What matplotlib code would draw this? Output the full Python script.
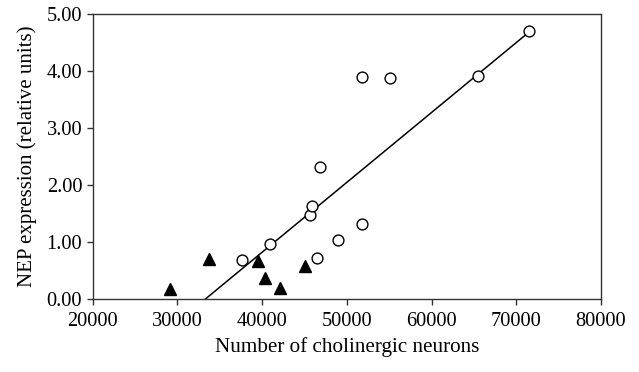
import matplotlib.pyplot as plt

# circles (open) and triangles (filled)
circle_x = [37650, 40900, 45650, 45850, 46450, 46850, 49000, 51850, 51850, 55050, 65450, 71450]
circle_y = [0.68, 0.96, 1.47, 1.63, 0.72, 2.31, 1.03, 1.32, 3.89, 3.88, 3.91, 4.71]
tri_x = [29150, 33750, 39500, 40300, 42100, 45050]
tri_y = [0.18, 0.70, 0.67, 0.37, 0.20, 0.58]

# regression line end points
fit_x = [33300, 71300]
fit_y = [0.0, 4.66]

plt.rcParams['font.family'] = ['Liberation Serif', 'DejaVu Serif']

fig = plt.figure(figsize=(6.39, 3.72), dpi=100)
ax = fig.add_axes([0.145, 0.196, 0.7955, 0.766])

ax.plot(fit_x, fit_y, color='black', lw=1.1)
ax.plot(circle_x, circle_y, 'o', ms=7.8, mfc='white', mec='black', mew=1.0, ls='none')
ax.plot(tri_x, tri_y, '^', ms=8.8, color='black', ls='none')

ax.set_xlim(20000, 80000)
ax.set_ylim(0, 5)
ax.set_xticks(range(20000, 80001, 10000))
ax.set_yticks([0, 1, 2, 3, 4, 5])
ax.set_yticklabels(['%.2f' % v for v in [0, 1, 2, 3, 4, 5]])
ax.tick_params(direction='out', length=4, width=1, labelsize=14.7, color='#333333')
ax.tick_params(axis='x', pad=5)

for s in ax.spines.values():
    s.set_color('#333333')
    s.set_linewidth(1.0)

ax.set_xlabel('Number of cholinergic neurons', fontsize=15.2, labelpad=5)
ax.set_ylabel('NEP expression (relative units)', fontsize=15, labelpad=7)

fig.savefig('out.png', dpi=100)
